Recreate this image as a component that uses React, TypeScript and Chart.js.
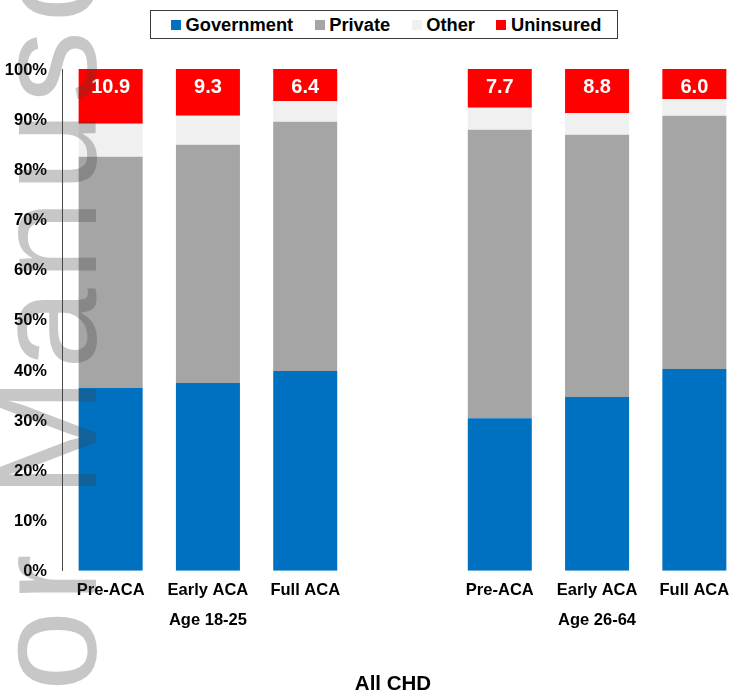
import React, { useEffect, useRef } from "react";
import { Chart, registerables } from "chart.js";

Chart.register(...registerables);

// ---- Data ----
const categories = ["Pre-ACA", "Early ACA", "Full ACA", "", "Pre-ACA", "Early ACA", "Full ACA"];
const groupLabels = ["Age 18-25", "Age 26-64"];
const groupLabelIndex = [1, 5];
const government = [36.4, 37.4, 39.8, null, 30.4, 34.6, 40.2];
const privateIns = [46.1, 47.5, 49.7, null, 57.5, 52.3, 50.5];
const other = [6.6, 5.8, 4.1, null, 4.4, 4.3, 3.3];
const uninsured = [10.9, 9.3, 6.4, null, 7.7, 8.8, 6.0];
const seriesNames = ["Government", "Private", "Other", "Uninsured"];
const seriesColors = ["#0070C0", "#A5A5A5", "#F0F0F0", "#FF0000"];
const titleText = "All CHD";
const watermarkBefore = "Author ";
const watermarkMain = "Manuscript";

const FONT = '"Liberation Sans", Arial, Helvetica, sans-serif';

const labels = categories.map((c, i) => {
  const g = groupLabelIndex.indexOf(i);
  return g >= 0 ? [c, groupLabels[g]] : c;
});

const valueLabelPlugin = {
  id: "valueLabels",
  afterDatasetsDraw(chart: any) {
    const ctx = chart.ctx;
    const meta = chart.getDatasetMeta(3);
    ctx.save();
    ctx.font = `bold 20px ${FONT}`;
    ctx.fillStyle = "#FFFFFF";
    ctx.textAlign = "center";
    ctx.textBaseline = "middle";
    meta.data.forEach((bar: any, i: number) => {
      const v = uninsured[i];
      if (v === null || v === undefined) return;
      ctx.fillText(v.toFixed(1), bar.x, bar.y + 18);
    });
    ctx.restore();
  },
};

const watermarkPlugin = {
  id: "watermark",
  afterDraw(chart: any) {
    const ctx = chart.ctx;
    const spacing = 8;
    ctx.save();
    ctx.font = `145px ${FONT}`;
    ctx.fillStyle = "rgba(63,63,63,0.29)";
    ctx.textBaseline = "alphabetic";
    ctx.textAlign = "left";
    const text = watermarkBefore + watermarkMain;
    let pre = 0;
    for (const ch of watermarkBefore) pre += ctx.measureText(ch).width + spacing;
    ctx.translate(96, 498 + pre);
    ctx.rotate(-Math.PI / 2);
    let x = 0;
    for (const ch of text) {
      ctx.fillText(ch, x, 0);
      x += ctx.measureText(ch).width + spacing;
    }
    ctx.restore();
  },
};

function Legend() {
  return (
    <div
      style={{
        position: "absolute",
        left: 150,
        top: 10,
        width: 468,
        height: 29,
        boxSizing: "border-box",
        border: "1.5px solid #3a3a3a",
        display: "flex",
        alignItems: "center",
        paddingLeft: 20,
        fontFamily: FONT,
        fontWeight: "bold",
        fontSize: "18.3px",
        color: "#000",
        background: "#fff",
        whiteSpace: "nowrap",
      }}
    >
      {seriesNames.map((n, i) => (
        <div
          key={n}
          style={{ display: "flex", alignItems: "center", marginRight: i < seriesNames.length - 1 ? 21.5 : 0 }}
        >
          <span
            style={{ display: "inline-block", width: 10, height: 10, background: seriesColors[i], marginRight: 4.5 }}
          />
          <span>{n}</span>
        </div>
      ))}
    </div>
  );
}

export default function App() {
  const ref = useRef<HTMLCanvasElement>(null);

  useEffect(() => {
    if (!ref.current) return;
    const data = [government, privateIns, other, uninsured];
    const chart = new Chart(ref.current, {
      type: "bar",
      data: {
        labels,
        datasets: data.map((d, i) => ({
          label: seriesNames[i],
          data: d,
          backgroundColor: seriesColors[i],
          borderWidth: 0,
          categoryPercentage: 1,
          barPercentage: 0.658,
        })),
      },
      options: {
        animation: false,
        responsive: false,
        maintainAspectRatio: false,
        devicePixelRatio: 1,
        layout: { padding: { top: 69, left: 0, right: 1, bottom: 0 } },
        plugins: {
          legend: { display: false },
          tooltip: { enabled: false },
          title: { display: false },
        },
        scales: {
          x: {
            stacked: true,
            grid: { display: false, drawTicks: false },
            border: { display: false },
            ticks: {
              color: "#000",
              padding: 5,
              maxRotation: 0,
              autoSkip: false,
              font: { family: FONT, size: 16.5, weight: "bold", lineHeight: 1.8 },
            },
            afterFit(scale: any) {
              scale.height = 697 - 570.7;
            },
          },
          y: {
            stacked: true,
            min: 0,
            max: 100,
            grid: { display: false, drawTicks: false },
            border: { display: true, color: "#4a4a4a", width: 1 },
            ticks: {
              stepSize: 10,
              color: "#000",
              padding: 15,
              labelOffset: 1,
              font: { family: FONT, size: 16.5, weight: "bold" },
              callback: (v: any) => `${v}%`,
            },
            afterFit(scale: any) {
              scale.width = 62;
            },
          },
        },
      },
      plugins: [valueLabelPlugin, watermarkPlugin],
    } as any);
    return () => chart.destroy();
  }, []);

  return (
    <div
      style={{
        position: "absolute",
        left: 0,
        top: 0,
        width: 741,
        height: 697,
        overflow: "hidden",
        background: "#fff",
      }}
    >
      <canvas
        ref={ref}
        width={744}
        height={697}
        style={{ position: "absolute", left: 0, top: 0, width: 744, height: 697, display: "block" }}
      />
      <Legend />
      <div
        style={{
          position: "absolute",
          left: 293,
          top: 670,
          width: 200,
          lineHeight: "25px",
          textAlign: "center",
          fontFamily: FONT,
          fontWeight: "bold",
          fontSize: "20.5px",
          color: "#000",
        }}
      >
        {titleText}
      </div>
    </div>
  );
}
